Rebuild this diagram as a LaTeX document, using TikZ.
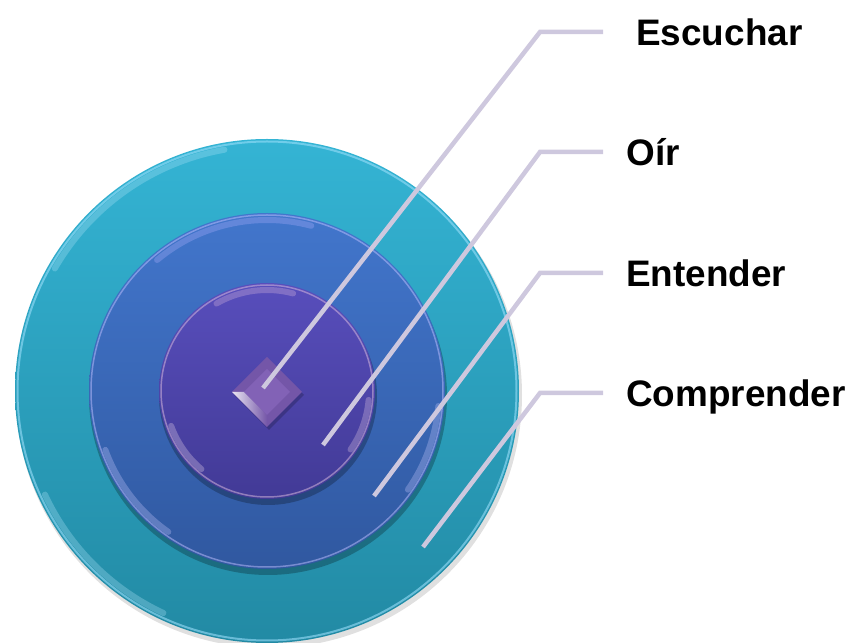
\documentclass[tikz,border=0pt]{standalone}
\usepackage{fontspec}
\setmainfont{Liberation Sans}
\usetikzlibrary{positioning, calc}

\definecolor{ringout}{RGB}{52,180,212}
\definecolor{ringoutdark}{RGB}{34,138,164}
\definecolor{ringmid}{RGB}{66,118,204}
\definecolor{ringmiddark}{RGB}{48,88,160}
\definecolor{ringin}{RGB}{88,78,188}
\definecolor{ringindark}{RGB}{66,58,150}
\definecolor{leader}{RGB}{206,200,222}
\definecolor{gem}{RGB}{116,86,168}
\definecolor{gemface}{RGB}{130,98,182}

\begin{document}
\begin{tikzpicture}[x=0.02cm, y=0.02cm,
    leaderline/.style={leader, line width=0.09cm},
    gloss/.style={line width=0.12cm, opacity=0.3, line cap=round},
    lbl/.style={anchor=west, inner xsep=0.46cm, inner ysep=0pt,
        text height=15pt, text depth=0pt,
        font=\fontsize{21}{25}\selectfont\bfseries}]
    % Frame of the picture
    \useasboundingbox (0,0) rectangle (850,643);
    \coordinate (ctr) at (267,252);

    % Outer ring
    \fill[black, opacity=0.12] (269,248) circle (253);
    \shade[top color=ringout, bottom color=ringoutdark] (ctr) circle (252);
    \draw[cyan!40!white, line width=0.04cm, opacity=0.6] (ctr) circle (249.5);
    \draw[cyan!30!white, gloss]
        (ctr) ++(100:245) arc[start angle=100, end angle=150, radius=245];
    \draw[cyan!30!white, gloss]
        (ctr) ++(205:245) arc[start angle=205, end angle=245, radius=245];

    % Middle ring
    \fill[black, opacity=0.25] (268,247) circle (179);
    \shade[top color=ringmid, bottom color=ringmiddark] (ctr) circle (178);
    \draw[blue!25!white, line width=0.03cm, opacity=0.5] (ctr) circle (176);
    \draw[blue!30!white, gloss]
        (ctr) ++(75:171) arc[start angle=75, end angle=130, radius=171];
    \draw[blue!20!white, gloss]
        (ctr) ++(200:172) arc[start angle=200, end angle=235, radius=172];
    \draw[blue!20!white, gloss]
        (ctr) ++(-5:172) arc[start angle=-5, end angle=-35, radius=172];

    % Inner ring
    \fill[black, opacity=0.25] (268,247) circle (109);
    \shade[top color=ringin, bottom color=ringindark] (ctr) circle (108);
    \draw[violet!25!white, line width=0.03cm, opacity=0.5] (ctr) circle (106);
    \draw[violet!25!white, gloss]
        (ctr) ++(75:101) arc[start angle=75, end angle=120, radius=101];
    \draw[violet!15!white, gloss]
        (ctr) ++(200:102) arc[start angle=200, end angle=230, radius=102];
    \draw[violet!20!white, gloss]
        (ctr) ++(-5:102) arc[start angle=-5, end angle=-35, radius=102];

    % Centre gem
    \fill[black, opacity=0.2] (234,248) -- (269,283) -- (304,248) -- (269,213) -- cycle;
    \fill[gem] (232,251) -- (267,286) -- (302,251) -- (267,216) -- cycle;
    \shade[left color=white!85!gem, right color=gem]
        (232,251) -- (244,251) -- (267,228) -- (267,216) -- cycle;
    \fill[gemface] (244,251) -- (267,274) -- (290,251) -- (267,228) -- cycle;

    % Leader lines and labels
    \coordinate (escS) at (263,255);
    \coordinate (escE) at (540,611);
    \node[lbl, inner xsep=0.66cm] (esc) at (603,611) {Escuchar};
    \draw[leaderline] (escS) -- (escE) -- (esc.west);

    \coordinate (oirS) at (323,198);
    \coordinate (oirE) at (540,491);
    \node[lbl] (oir) at (603,491) {Oír};
    \draw[leaderline] (oirS) -- (oirE) -- (oir.west);

    \coordinate (entS) at (374,147);
    \coordinate (entE) at (540,370);
    \node[lbl] (ent) at (603,370) {Entender};
    \draw[leaderline] (entS) -- (entE) -- (ent.west);

    \coordinate (comS) at (423,96);
    \coordinate (comE) at (540,250);
    \node[lbl] (com) at (603,250) {Comprender};
    \draw[leaderline] (comS) -- (comE) -- (com.west);
\end{tikzpicture}
\end{document}
